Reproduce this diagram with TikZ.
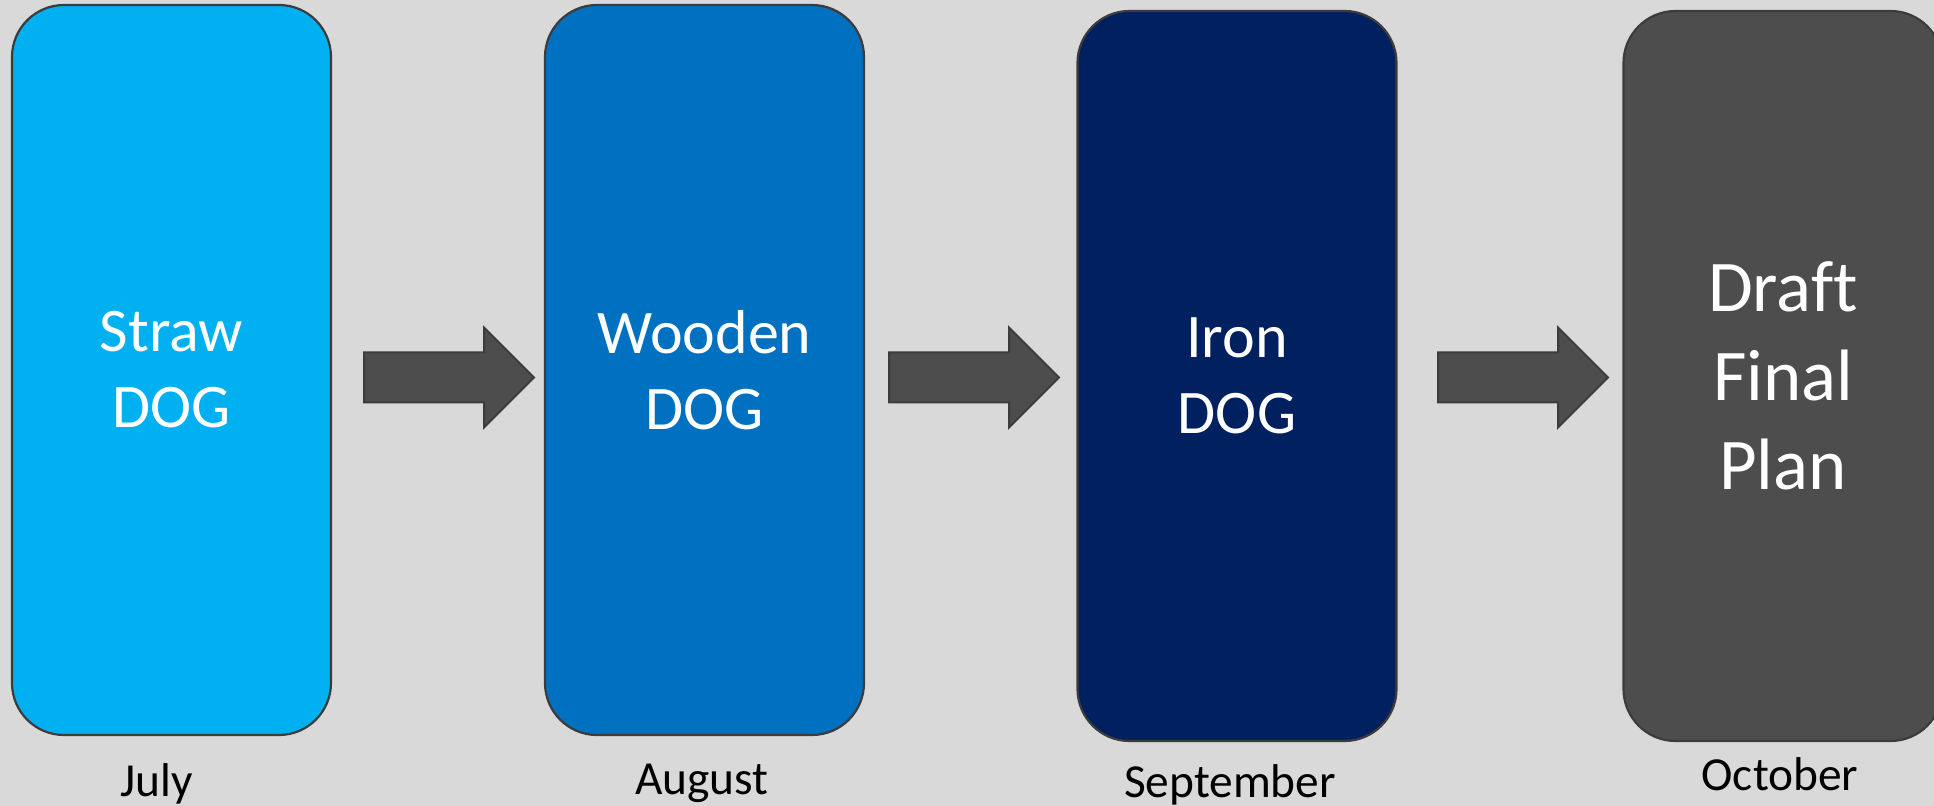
\documentclass[tikz,border=0pt]{standalone}
\usepackage{fontspec}
\setmainfont[Ligatures=NoCommon]{Carlito}
\definecolor{strawblue}{HTML}{00B0F0}
\definecolor{woodenblue}{HTML}{0070C0}
\definecolor{ironblue}{HTML}{002060}
\definecolor{plangray}{HTML}{4D4D4D}
\definecolor{bggray}{HTML}{D9D9D9}
\definecolor{edgegray}{HTML}{3C3C3C}

\begin{document}
\begin{tikzpicture}[x=0.5pt, y=-0.5pt, stage/.style={rectangle, rounded corners=26pt, draw=edgegray, line width=1.1pt, minimum width=159.5pt, minimum height=365pt, text=white, align=center, font=\fontsize{31}{38}\selectfont}, month/.style={anchor=base, font=\fontsize{23.7}{28}\selectfont}, blockarrow/.style={fill=plangray, draw=edgegray, line width=1pt}]

        % Background.
        \fill[bggray] (0,0) rectangle (1934,806);
        \useasboundingbox (0,0) rectangle (1934,806);

        % Stages.
        \node[stage, fill=strawblue] (S-1) at (171.5,370) {Straw\\DOG};
        \node[stage, fill=woodenblue] (S-2) at (704.5,370) {Wooden\\DOG};
        \node[stage, fill=ironblue] (S-3) at (1237,376) {Iron\\DOG};
        \node[stage, fill=plangray, font=\fontsize{36.4}{44.5}\selectfont] (S-4) at (1783,376) {Draft\\Final\\Plan};

        % Months.
        \node[month] (M-1) at (157,797) {July};
        \node[month] (M-2) at (702,795) {August};
        \node[month] (M-3) at (1230,798) {September};
        \node[month] (M-4) at (1780,791) {October};

        % Arrows between stages.
        \foreach \x in {364,889,1438}
            \draw[blockarrow] (\x,352.5) -- ++(120,0) -- ++(0,-25) -- ++(50,50) -- ++(-50,50) -- ++(0,-25) -- ++(-120,0) -- cycle;

    \end{tikzpicture}
\end{document}
